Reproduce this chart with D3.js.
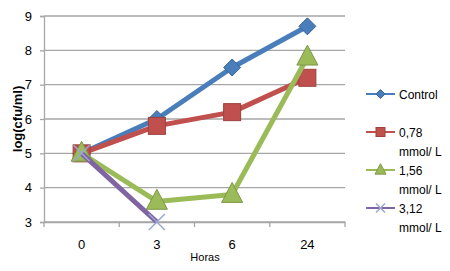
<!DOCTYPE html>
<html>
<head>
<meta charset="utf-8">
<script src="https://cdn.jsdelivr.net/npm/d3@7"></script>
<style>
  body { margin: 0; background: #fff; }
  text { font-family: "Liberation Sans", Arial, sans-serif; fill: #000; }
</style>
</head>
<body>
<svg id="chart"></svg>
<script>
const width = 450;
const height = 271;

// data
const horas = ['0', '3', '6', '24'];
const control = [5, 6, 7.5, 8.7];
const c078 = [5, 5.8, 6.2, 7.2];
const c156 = [5, 3.6, 3.8, 7.8];
const c312 = [5, 3];
const yTicks = [3, 4, 5, 6, 7, 8, 9];

const series = [
  { name: ['Control'], values: control, color: '#4a7ebb', marker: 'diamond' },
  { name: ['0,78', 'mmol/ L'], values: c078, color: '#c0504d', marker: 'square' },
  { name: ['1,56', 'mmol/ L'], values: c156, color: '#9bbb59', marker: 'triangle' },
  { name: ['3,12', 'mmol/ L'], values: c312, color: '#8064a2', marker: 'cross' }
];

const svg = d3.select('#chart')
    .attr('width', width)
    .attr('height', height);

const margin = { left: 44, right: 105, top: 16, bottom: 49 };
const x = d3.scaleBand().domain(horas).range([margin.left, width - margin.right]);
const y = d3.scaleLinear().domain([3, 9]).range([height - margin.bottom, margin.top]);

// gridlines
svg.append('g')
  .selectAll('line')
  .data(yTicks)
  .enter().append('line')
  .attr('x1', margin.left)
  .attr('x2', width - margin.right)
  .attr('y1', d => y(d))
  .attr('y2', d => y(d))
  .attr('stroke', '#a6a6a6')
  .attr('stroke-width', 1.3);

// y axis
const yAxis = svg.append('g')
  .attr('transform', `translate(${margin.left},0)`)
  .call(d3.axisLeft(y).tickValues(yTicks).tickFormat(d3.format('d')).tickSize(4).tickPadding(8));
yAxis.selectAll('line, path').attr('stroke', '#a6a6a6').attr('stroke-width', 1.3);
yAxis.selectAll('text').style('font-size', '13px').attr('font-family', null);

// x axis
const xAxis = svg.append('g')
  .attr('transform', `translate(0,${height - margin.bottom})`)
  .call(d3.axisBottom(x).tickSize(0).tickPadding(18));
xAxis.select('path').attr('stroke', '#a6a6a6').attr('stroke-width', 1.3);
xAxis.selectAll('text').style('font-size', '13px').attr('font-family', null);
// category boundary ticks
xAxis.selectAll('.bound')
  .data(horas.concat(['end']))
  .enter().append('line')
  .attr('x1', (d, i) => i < horas.length ? x(d) : x.range()[1])
  .attr('x2', (d, i) => i < horas.length ? x(d) : x.range()[1])
  .attr('y1', 0).attr('y2', 5)
  .attr('stroke', '#a6a6a6').attr('stroke-width', 1.3);

svg.append('text')
  .attr('x', 205).attr('y', 261)
  .attr('text-anchor', 'middle')
  .style('font-size', '11px')
  .text('Horas');

svg.append('text')
  .attr('transform', `translate(22,${(y(3) + y(9)) / 2}) rotate(-90)`)
  .attr('text-anchor', 'middle')
  .style('font-size', '13px')
  .style('font-weight', 'bold')
  .text('log(cfu/ml)');

const cx = (d, i) => x(horas[i]) + x.bandwidth() / 2;

const line = d3.line().x(cx).y(d => y(d));

function drawMarker(g, type, color, size) {
  if (type === 'diamond') {
    g.append('path').attr('d', `M0,${-size}L${size},0L0,${size}L${-size},0Z`)
      .attr('fill', color).attr('stroke', d3.color(color).darker(0.6)).attr('stroke-width', 1);
  } else if (type === 'square') {
    g.append('rect').attr('x', -size).attr('y', -size).attr('width', size * 2).attr('height', size * 2)
      .attr('fill', color).attr('stroke', d3.color(color).darker(0.6)).attr('stroke-width', 1);
  } else if (type === 'triangle') {
    g.append('path').attr('d', `M0,${-size * 1.15}L${size},${size * 0.75}L${-size},${size * 0.75}Z`)
      .attr('fill', color).attr('stroke', d3.color(color).darker(0.6)).attr('stroke-width', 1);
  } else {
    g.append('path').attr('d', `M${-size},${-size}L${size},${size}M${size},${-size}L${-size},${size}`)
      .attr('stroke', '#9aa6d6').attr('stroke-width', 1.5).attr('fill', 'none');
  }
}

const markerSize = { diamond: 8.5, square: 8.5, triangle: 10.5, cross: 8 };

series.forEach(s => {
  svg.append('path')
    .datum(s.values)
    .attr('fill', 'none')
    .attr('stroke', s.color)
    .attr('stroke-width', 5)
    .attr('stroke-linejoin', 'round')
    .attr('d', line);

  s.values.forEach((v, i) => {
    const g = svg.append('g').attr('transform', `translate(${cx(v, i)},${y(v)})`);
    drawMarker(g, s.marker, s.color, markerSize[s.marker]);
  });
});

// legend
const legendY = [94, 132, 170, 208];
series.forEach((s, i) => {
  const g = svg.append('g').attr('transform', `translate(366,${legendY[i]})`);
  g.append('line').attr('x1', 0).attr('x2', 29).attr('y1', 0).attr('y2', 0)
    .attr('stroke', s.color).attr('stroke-width', 2);
  const m = g.append('g').attr('transform', 'translate(14.5,0)');
  drawMarker(m, s.marker, s.color, s.marker === 'triangle' ? 5.5 : 4.5);
  s.name.forEach((t, j) => {
    g.append('text')
      .attr('x', 33).attr('y', j * 19 + 4.5)
      .style('font-size', '12px')
      .text(t);
  });
});
</script>
</body>
</html>
